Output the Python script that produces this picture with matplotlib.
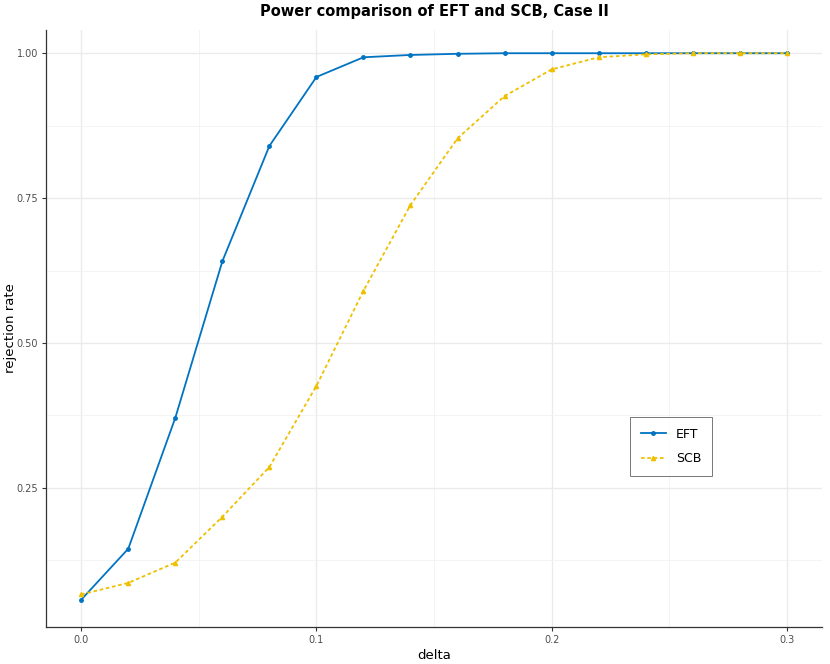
import numpy as np
import matplotlib
matplotlib.use("Agg")
import matplotlib.pyplot as plt

# data
delta = [0.00, 0.02, 0.04, 0.06, 0.08, 0.10, 0.12, 0.14, 0.16,
         0.18, 0.20, 0.22, 0.24, 0.26, 0.28, 0.30]
eft = [0.057, 0.145, 0.371, 0.641, 0.840, 0.959, 0.993, 0.997, 0.999,
       1.000, 1.000, 1.000, 1.000, 1.000, 1.000, 1.000]
scb = [0.066, 0.086, 0.121, 0.200, 0.286, 0.426, 0.590, 0.738, 0.853,
       0.926, 0.972, 0.993, 0.998, 1.000, 1.000, 1.000]

x_ticks = [0.0, 0.1, 0.2, 0.3]
x_labels = ["0.0", "0.1", "0.2", "0.3"]
y_ticks = [0.25, 0.5, 0.75, 1.0]
y_labels = ["0.25", "0.50", "0.75", "1.00"]

blue = "#0073C2"
yellow = "#EFC000"

fig = plt.figure(figsize=(8.3, 6.64), dpi=100)
ax = fig.add_axes([46 / 830, 1 - 627 / 664, (822 - 46) / 830, (627 - 30) / 664])

ax.plot(delta, eft, "-o", color=blue, lw=1.3, markersize=2.5, label="EFT", zorder=3)
ax.plot(delta, scb, "--^", color=yellow, lw=1.3, markersize=3, dashes=(2, 1.5),
        label="SCB", zorder=3)

# ggplot-like 5% expansion
ax.set_xlim(-0.015, 0.315)
lo, hi = min(eft + scb), max(eft + scb)
pad = (hi - lo) * 0.05
ax.set_ylim(lo - pad, hi + pad * 0.85)

ax.set_xticks(x_ticks)
ax.set_xticklabels(x_labels)
ax.set_xticks([0.05, 0.15, 0.25], minor=True)
ax.set_yticks(y_ticks)
ax.set_yticklabels(y_labels)
ax.set_yticks([0.125, 0.375, 0.625, 0.875], minor=True)

ax.grid(which="major", color="#EBEBEB", lw=1.0)
ax.grid(which="minor", color="#F2F2F2", lw=0.6)
ax.set_axisbelow(True)

for s in ["top", "right"]:
    ax.spines[s].set_visible(False)
for s in ["left", "bottom"]:
    ax.spines[s].set_color("#333333")
    ax.spines[s].set_linewidth(0.9)

ax.tick_params(which="major", length=3, color="#333333", labelcolor="#4D4D4D",
               labelsize=7, pad=2.5)
ax.tick_params(which="minor", length=0)

ax.set_xlabel("delta", fontsize=9.5, labelpad=3)
ax.set_ylabel("rejection rate", fontsize=9.5)
ax.yaxis.set_label_coords(-(46 - 17) / 776, 0.5)
ax.set_title("Power comparison of EFT and SCB, Case II", fontsize=10.5,
             fontweight="bold", pad=10)

leg = ax.legend(loc="upper left", bbox_to_anchor=((630 - 46) / 776, 1 - (417 - 30) / 597),
                frameon=True, fancybox=False, fontsize=9, handlelength=2.0,
                handletextpad=0.8, borderpad=0.85, labelspacing=0.9, borderaxespad=0)
leg.get_frame().set_edgecolor("#555555")
leg.get_frame().set_linewidth(0.7)

fig.savefig("out.png", dpi=100)
